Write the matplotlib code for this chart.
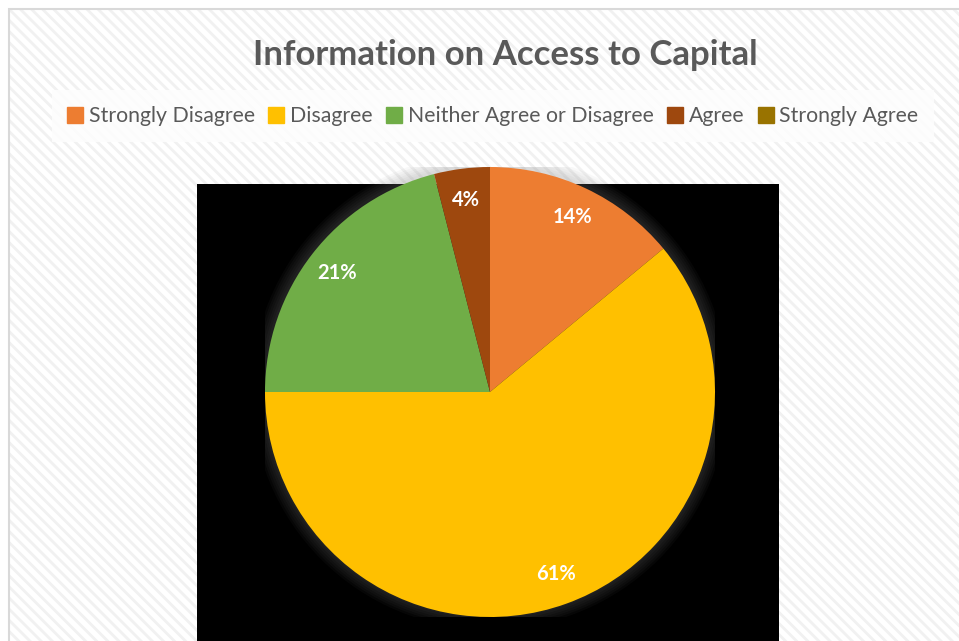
import matplotlib.pyplot as plt
from matplotlib.patches import Rectangle, Circle
from matplotlib.lines import Line2D

categories = ['Strongly Disagree', 'Disagree', 'Neither Agree or Disagree',
              'Agree', 'Strongly Agree']
shares = [14, 61, 21, 4, 0]
colors = ['#ED7D31', '#FFC000', '#70AD47', '#9E480E', '#997300']

plt.rcParams['font.family'] = ['Lato', 'DejaVu Sans']
plt.rcParams['hatch.linewidth'] = 2.0

W, H = 959, 641
fig = plt.figure(figsize=(W / 100, H / 100), dpi=100)
fig.patch.set_facecolor('white')

# chart area: striped fill, then grey frame on top
fig.patches.append(Rectangle((9 / W, 0), 1, 1 - 9 / H, transform=fig.transFigure,
                             facecolor='white', edgecolor='#f1f1f1',
                             linewidth=0, hatch='\\\\\\', zorder=0))
fig.patches.append(Rectangle((9 / W, -0.01), 1, 1 - 9 / H + 0.01,
                             transform=fig.transFigure, facecolor='none',
                             edgecolor='#d9d9d9', linewidth=1.5, zorder=0.5))

# black plot area behind the pie
fig.patches.append(Rectangle((197 / W, 0), 582 / W, (H - 184) / H,
                             transform=fig.transFigure, facecolor='black',
                             edgecolor='none', zorder=1))

# pie axes: centre (490, 392), radius 225 px
cx, cy, r = 490, 392, 225
ax = fig.add_axes([(cx - r) / W, (H - cy - r) / H, 2 * r / W, 2 * r / H])
ax.set_zorder(2)

# soft shadow around the pie
for i in range(6):
    ax.add_patch(Circle((0, 0.005), 1.0 + 0.01 * (i + 1), color='#808080',
                        alpha=0.05, linewidth=0, zorder=0))

wedges, texts, autotexts = ax.pie(
    shares, colors=colors, startangle=90, counterclock=False,
    autopct=lambda p: f'{p:.0f}%' if p > 0.5 else '', pctdistance=0.86,
    wedgeprops=dict(linewidth=0), radius=1.0)
for t in autotexts:
    t.set_color('white')
    t.set_fontsize(14.5)
    t.set_fontweight('bold')
ax.set_xlim(-1, 1)
ax.set_ylim(-1, 1)
ax.set_aspect('equal')
ax.axis('off')

fig.text(505 / W, 1 - 55 / H, 'Information on Access to Capital',
         ha='center', va='center', fontsize=25, fontweight='bold',
         color='#595959')

handles = [Line2D([], [], marker='s', linestyle='none', markersize=11,
                  markerfacecolor=c, markeredgecolor=c) for c in colors]
leg = fig.legend(handles, categories, loc='center', ncol=5,
                 bbox_to_anchor=(493 / W, 1 - 116 / H), frameon=True,
                 fontsize=15.3, handlelength=0.7, handletextpad=0.3,
                 columnspacing=0.65, borderpad=0.75, labelcolor='#595959')
leg.get_frame().set_facecolor('#fdfdfd')
leg.get_frame().set_edgecolor('none')
leg.get_frame().set_alpha(0.9)
leg.get_frame().set_boxstyle('square', pad=0)

fig.savefig('out.png', dpi=100)
